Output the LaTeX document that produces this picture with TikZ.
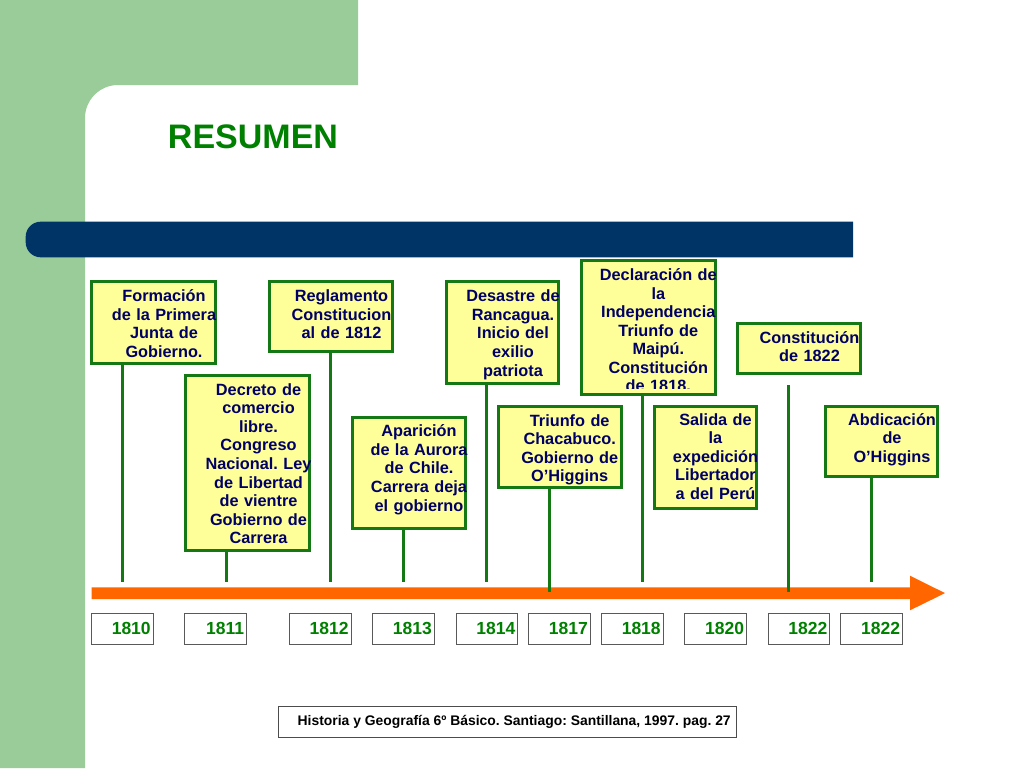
\documentclass[tikz,border=0pt]{standalone}
\usepackage{fontspec}
\setmainfont{Liberation Sans}
\definecolor{bggreen}{RGB}{153,204,153}
\definecolor{barblue}{RGB}{0,51,102}
\definecolor{titlegreen}{RGB}{0,128,0}
\definecolor{boxfill}{RGB}{255,255,153}
\definecolor{boxline}{RGB}{20,120,20}
\definecolor{textnavy}{RGB}{0,0,102}
\definecolor{arroworange}{RGB}{255,102,0}
\begin{document}
\frenchspacing
\begin{tikzpicture}[x=1pt,y=-1pt,
  evbox/.style={draw=boxline, line width=3pt, fill=boxfill, inner sep=0pt},
  evtext/.style={text=textnavy, font=\fontsize{16.3}{18.6}\selectfont\bfseries,
    text width=150pt, align=center, inner sep=0pt, anchor=base},
  stem/.style={draw=boxline, line width=3pt},
  yearbox/.style={draw=black!65, line width=1pt, fill=white, minimum height=30.5pt,
    text width=56.7pt, inner xsep=2.5pt, inner ysep=0pt, align=right,
    text=titlegreen, font=\fontsize{17.5}{20}\selectfont\bfseries},
  titletext/.style={text=titlegreen, font=\fontsize{34}{40}\selectfont\bfseries,
    anchor=base, inner sep=0pt},
  footbox/.style={draw=black!70, line width=1pt, fill=white, inner sep=0pt},
  foottext/.style={text=black, font=\fontsize{13.9}{16}\selectfont\bfseries,
    anchor=base, inner sep=0pt}]
\useasboundingbox (0,0) rectangle (1024,768);
\fill[white] (0,0) rectangle (1024,768);
% background
\fill[bggreen] (0,0) -- (358,0) -- (358,85) -- (118,85)
  .. controls (99.8,85) and (85,99.8) .. (85,118) -- (85,768) -- (0,768) -- cycle;
\fill[barblue] (853,221.7) -- (40.7,221.7) .. controls (32.4,221.7) and (25.7,228.4) .. (25.7,236.7)
  -- (25.7,242.3) .. controls (25.7,250.6) and (32.4,257.3) .. (40.7,257.3) -- (853,257.3) -- cycle;
\node[titletext] (title) at (253,148.3) {RESUMEN};
% arrow
\fill[arroworange] (91.7,587.3) -- (910,587.3) -- (910,575.7) -- (945,593.1)
  -- (910,610.3) -- (910,599) -- (91.7,599) -- cycle;
% event boxes
\node[evbox, minimum width=123.7pt, minimum height=82pt]   (b1)  at (153.35,322.5) {};
\node[evbox, minimum width=123.4pt, minimum height=174.7pt](b2)  at (247.5,462.85) {};
\node[evbox, minimum width=123.3pt, minimum height=70.3pt] (b3)  at (330.85,316.65) {};
\node[evbox, minimum width=112.7pt, minimum height=111.3pt](b4)  at (408.85,472.85) {};
\node[evbox, minimum width=112pt,   minimum height=102pt]  (b5)  at (502.5,332.5) {};
\node[evbox, minimum width=123pt,   minimum height=81.3pt] (b6)  at (559.7,447.15) {};
\node[evbox, minimum width=133.7pt, minimum height=133.7pt](b7)  at (648.35,327.35) {};
\node[evbox, minimum width=123.3pt, minimum height=50.3pt] (b8)  at (799.15,348.35) {};
\node[evbox, minimum width=102.6pt, minimum height=102pt]  (b9)  at (705.5,457.5) {};
\node[evbox, minimum width=112.6pt, minimum height=70.3pt] (b10) at (881.5,441.65) {};
% texts
\node[evtext] (t1) at (164,301.7) {Formación\\de la Primera\\Junta de\\Gobierno.};
\node[evtext] (t2) at (258.5,395) {Decreto de\\comercio\\libre.\\Congreso\\Nacional. Ley\\de Libertad\\de vientre\\Gobierno de\\Carrera};
\node[evtext] (t3) at (341.5,301.7) {Reglamento\\Constitucion\\al de 1812};
\node[evtext] (t4) at (419,436.6) {Aparición\\de la Aurora\\de Chile.\\Carrera deja\\el gobierno};
\node[evtext] (t5) at (513,301.7) {Desastre de\\Rancagua.\\Inicio del\\exilio\\patriota};
\node[evtext] (t6) at (569.7,426) {Triunfo de\\Chacabuco.\\Gobierno de\\O’Higgins};
\begin{scope}
\clip (570,240) rectangle (740,388.5);
\node[evtext, font=\fontsize{16.3}{18.5}\selectfont\bfseries] (t7) at (658.3,280.5)
  {Declaración de\\la\\Independencia\\Triunfo de\\Maipú.\\Constitución\\de 1818.};
\end{scope}
\node[evtext] (t8) at (809.5,343.3) {Constitución\\de 1822};
\node[evtext] (t9) at (715.5,425) {Salida de\\la\\expedición\\Libertador\\a del Perú};
\node[evtext] (t10) at (892,425) {Abdicación\\de\\O’Higgins};
% stems
\coordinate (e1) at (122.3,581.7);
\coordinate (e2) at (226,581.7);
\coordinate (e3) at (330.5,581.7);
\coordinate (e4) at (403.3,581.7);
\coordinate (e5) at (486.4,581.7);
\coordinate (e6) at (549.3,591.7);
\coordinate (e7) at (642.7,581.7);
\coordinate (e8) at (788.7,591.7);
\coordinate (s8) at (788.7,385);
\coordinate (e10) at (871.7,581.7);
\draw[stem] (b1.south -| e1) -- (e1);
\draw[stem] (b2.south -| e2) -- (e2);
\draw[stem] (b3.south -| e3) -- (e3);
\draw[stem] (b4.south -| e4) -- (e4);
\draw[stem] (b5.south -| e5) -- (e5);
\draw[stem] (b6.south -| e6) -- (e6);
\draw[stem] (b7.south -| e7) -- (e7);
\draw[stem] (s8) -- (e8);
\draw[stem] (b10.south -| e10) -- (e10);
% years
\foreach \n/\x/\yr in {1/122.35/1810, 2/215.8/1811, 3/320.2/1812, 4/403.5/1813,
  5/487/1814, 6/559.5/1817, 7/632.35/1818, 8/715.65/1820, 9/799/1822, 10/871.8/1822}
  \node[yearbox] (y\n) at (\x,628.8) {\yr};
% footer
\node[footbox, minimum width=457.4pt, minimum height=30.7pt] (fbox) at (507.5,721.85) {};
\node[foottext] (ftext) at (514.2,725.7) {Historia y Geografía 6º Básico. Santiago: Santillana, 1997. pag. 27};
\end{tikzpicture}
\end{document}
